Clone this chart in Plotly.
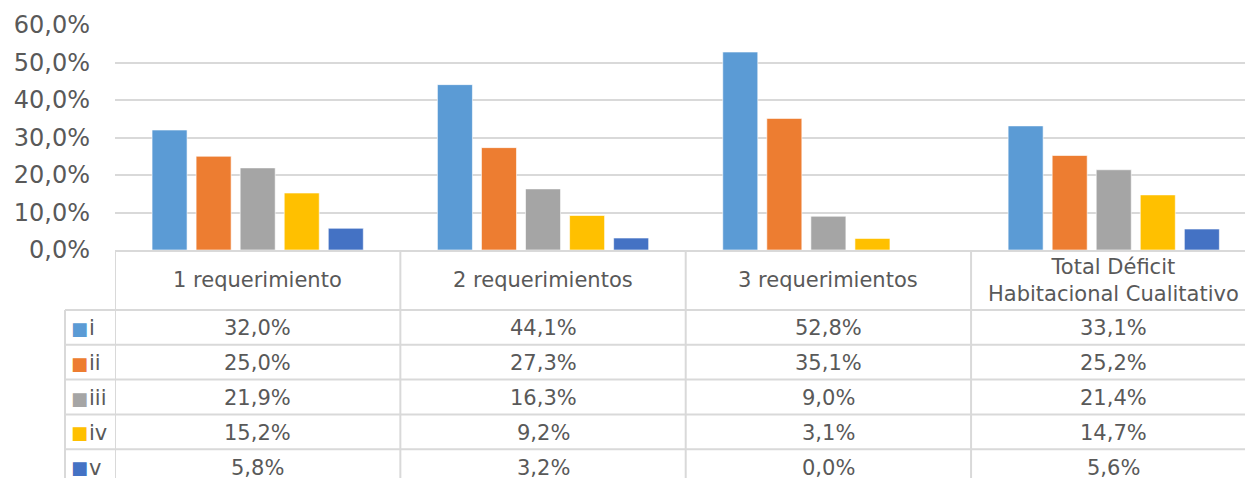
import plotly.graph_objects as go

# data
categories = ["1 requerimiento", "2 requerimientos", "3 requerimientos",
              "Total Déficit<br>Habitacional Cualitativo"]
series_names = ["i", "ii", "iii", "iv", "v"]
vals_i = [32.0, 44.1, 52.8, 33.1]
vals_ii = [25.0, 27.3, 35.1, 25.2]
vals_iii = [21.9, 16.3, 9.0, 21.4]
vals_iv = [15.2, 9.2, 3.1, 14.7]
vals_v = [5.8, 3.2, 0.0, 5.6]
colors = ["#5B9BD5", "#ED7D31", "#A5A5A5", "#FFC000", "#4472C4"]

series = [vals_i, vals_ii, vals_iii, vals_iv, vals_v]

# layout in page pixels
W, H = 1245, 478
L, R, T, B = 115, 1245, 25, 250
FONT = "DejaVu Sans"
TXT = "#595959"
GRID = "#D9D9D9"


def py(y):
    # page pixel y -> paper y
    return (B - y) / (B - T)


def px(x):
    # page pixel x -> paper x
    return (x - L) / (R - L)


fig = go.Figure()
xpos = list(range(len(categories)))
for name, vals, col in zip(series_names, series, colors):
    fig.add_trace(go.Bar(x=xpos, y=vals, name=name, marker_color=col,
                         marker_line=dict(width=1, color="rgba(255,255,255,0.6)")))

# data table under the bars
legend_left = 65
header_bottom = 310
row_h = 34.8
row_lines = [header_bottom + row_h * k for k in range(len(series_names))]
shapes = []
line = dict(color=GRID, width=2)
for y in row_lines:
    shapes.append(dict(type="line", xref="paper", yref="paper",
                       x0=px(legend_left), x1=1.01, y0=py(y), y1=py(y), line=line))
for k in range(len(categories)):
    shapes.append(dict(type="line", xref="x", yref="paper",
                       x0=k - 0.5, x1=k - 0.5, y0=py(B), y1=py(H + 5), line=line))
shapes.append(dict(type="line", xref="paper", yref="paper",
                   x0=px(legend_left), x1=px(legend_left), y0=py(header_bottom), y1=py(H + 5),
                   line=line))

cell_font = dict(size=21, color=TXT, family=FONT)
annotations = []
for k, cat in enumerate(categories):
    annotations.append(dict(x=k, y=py((B + header_bottom) / 2), xref="x", yref="paper",
                            yanchor="middle", text=cat, showarrow=False, font=cell_font))
    for r, vals in enumerate(series):
        yc = py(header_bottom + row_h * (r + 0.5) + 1)
        annotations.append(dict(x=k, y=yc, xref="x", yref="paper", yanchor="middle",
                                text=f"{vals[k]:.1f}%".replace(".", ","), showarrow=False,
                                font=cell_font))
for r, (name, col) in enumerate(zip(series_names, colors)):
    yc = py(header_bottom + row_h * (r + 0.5) + 1)
    annotations.append(dict(x=px(69), y=yc, xref="paper", yref="paper", xanchor="left",
                            yanchor="middle", text="■", showarrow=False,
                            font=dict(size=18, color=col, family=FONT)))
    annotations.append(dict(x=px(87), y=yc, xref="paper", yref="paper", xanchor="left",
                            yanchor="middle", text=name, showarrow=False, font=cell_font))

fig.update_layout(
    width=W, height=H,
    margin=dict(l=L, r=W - R, t=T, b=H - B),
    paper_bgcolor="white", plot_bgcolor="white",
    barmode="group", bargap=0.228, bargroupgap=0.205,
    showlegend=False,
    separators=",.",
    font=dict(family=FONT, color=TXT),
    xaxis=dict(range=[-0.5, 3.46], showticklabels=False, showgrid=False, zeroline=False,
               showline=True, linecolor=GRID, linewidth=2),
    yaxis=dict(range=[0, 60], dtick=10, tickformat=".1f", ticksuffix="%",
               showgrid=True, gridcolor=GRID, gridwidth=2, zeroline=False, showline=False,
               tickfont=dict(size=24, color=TXT, family=FONT), ticklabelstandoff=24),
    shapes=shapes,
    annotations=annotations,
)

# drop the default body margin so the figure sits at the page corner
fig.write_html("out.html", config={"displayModeBar": False},
               post_script="document.body.style.margin='0';")
